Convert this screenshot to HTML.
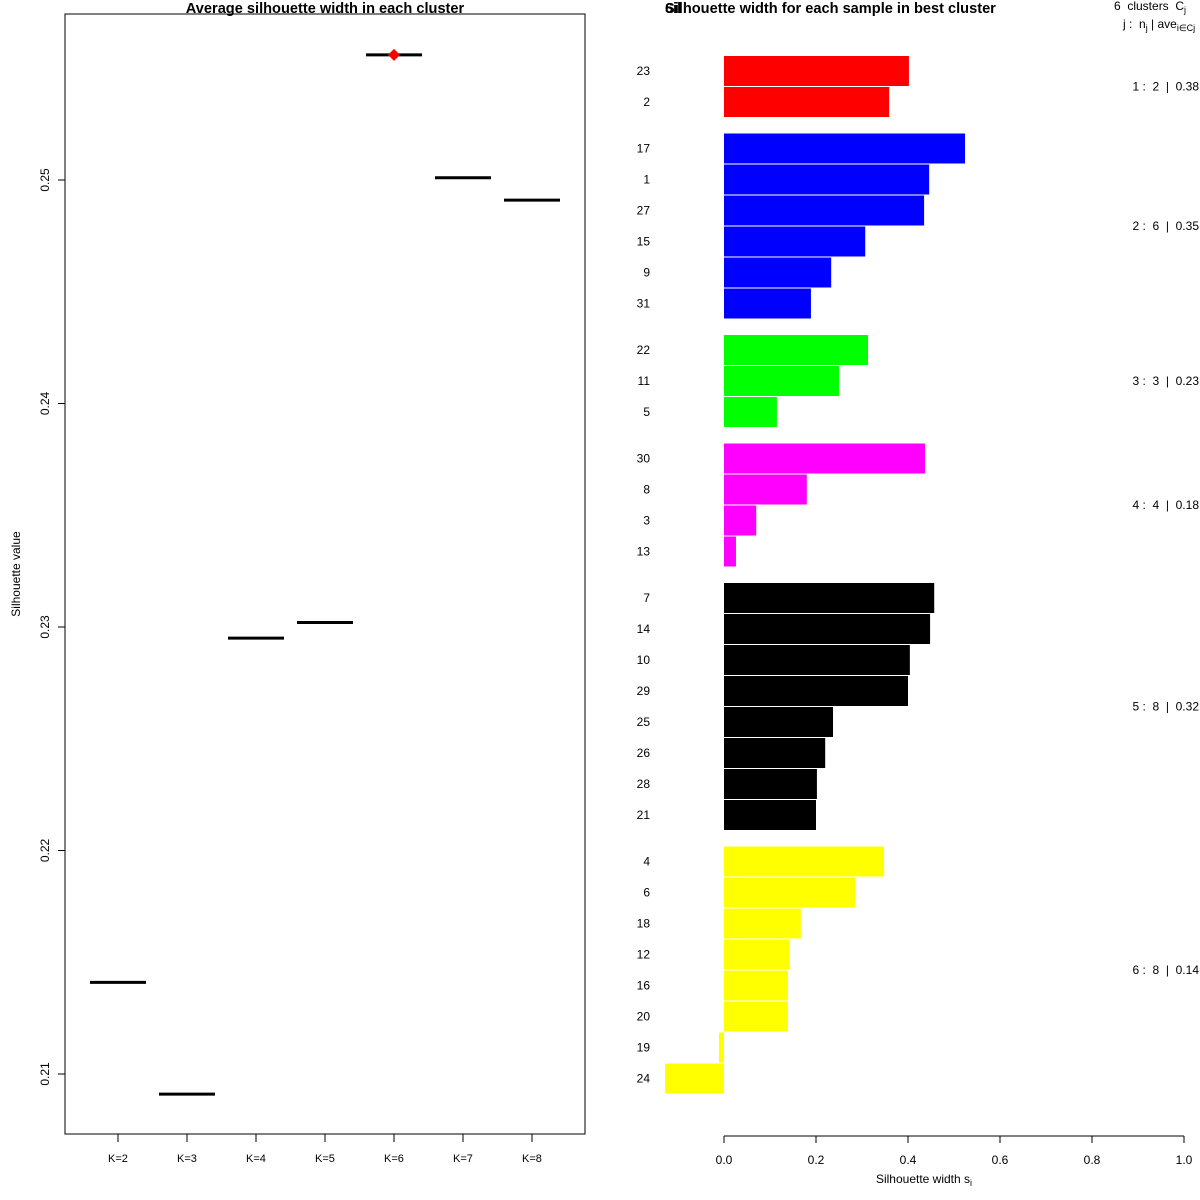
<!DOCTYPE html>
<html><head><meta charset="utf-8"><style>
body{margin:0;background:#fff}
svg{display:block;font-family:"Liberation Sans",sans-serif}
text{white-space:pre}
</style></head><body>
<svg id="s" width="1200" height="1200" viewBox="0 0 1200 1200">
<rect width="1200" height="1200" fill="#fff"/>
<text x="325" y="13" text-anchor="middle" font-weight="bold" font-size="14.6">Average silhouette width in each cluster</text>
<rect x="65" y="14" width="520" height="1120" fill="none" stroke="#000"/>
<text transform="translate(20,574) rotate(-90)" text-anchor="middle" font-size="12">Silhouette value</text>
<g id="left"></g>
<text x="665" y="13" font-weight="bold" font-size="14.6">Silhouette width for each sample in best cluster</text>
<text x="665" y="13" font-weight="bold" font-size="14.6">6il</text>
<text x="1114" y="10" font-size="12">6  clusters  C<tspan font-size="9" dy="3">j</tspan></text>
<text x="1123" y="28" font-size="12">j :  n<tspan font-size="9" dy="3">j</tspan><tspan dy="-3"> | ave</tspan><tspan font-size="9" dy="3">i∈Cj</tspan><tspan dy="-3">  s</tspan><tspan font-size="9" dy="3">i</tspan></text>
<g id="right"></g>
<text x="924" y="1183" text-anchor="middle" font-size="12">Silhouette width s<tspan font-size="9" dy="3">i</tspan></text>
</svg>
<script>
const kLabels=["K=2","K=3","K=4","K=5","K=6","K=7","K=8"];
const kValues=[0.2141,0.2091,0.2295,0.2302,0.2556,0.2501,0.2491];
const yTicks=[0.21,0.22,0.23,0.24,0.25];
const bestIndex=4;
const sampleIds=[23,2,17,1,27,15,9,31,22,11,5,30,8,3,13,7,14,10,29,25,26,28,21,4,6,18,12,16,20,19,24];
const sampleWidths=[0.402,0.359,0.524,0.446,0.435,0.307,0.233,0.189,0.313,0.25,0.115,0.437,0.18,0.07,0.026,0.457,0.448,0.404,0.4,0.237,0.22,0.202,0.2,0.348,0.285,0.167,0.143,0.139,0.139,-0.011,-0.128];
const sampleCluster=[1,1,2,2,2,2,2,2,3,3,3,4,4,4,4,5,5,5,5,5,5,5,5,6,6,6,6,6,6,6,6];
const clusterColors=["#ff0000","#0000ff","#00ff00","#ff00ff","#000000","#ffff00"];
const clusterSizes=[2,6,3,4,8,8];
const clusterAvg=["0.38","0.35","0.23","0.18","0.32","0.14"];
const xTicks=[0,0.2,0.4,0.6,0.8,1.0];
const NS="http://www.w3.org/2000/svg";
function mk(p,t,a){const e=document.createElementNS(NS,t);for(const k in a)e.setAttribute(k,a[k]);p.appendChild(e);return e;}
const L=document.getElementById('left'),R=document.getElementById('right');
const ly=v=>180+(0.25-v)*22350;
const lx=i=>118+i*69;
yTicks.forEach(v=>{
 const t=mk(L,'line',{x1:58,x2:65,y1:ly(v),y2:ly(v),stroke:'#000'});
 
 const tx=mk(L,'text',{transform:`translate(49,${ly(v)}) rotate(-90)`,'text-anchor':'middle','font-size':12});
 tx.textContent=v.toFixed(2);
});
kLabels.forEach((k,i)=>{
 const t=mk(L,'line',{x1:lx(i),x2:lx(i),y1:1134,y2:1142,stroke:'#000'});
 
 const tx=mk(L,'text',{x:lx(i),y:1162,'text-anchor':'middle','font-size':11});
 tx.textContent=k;
 const s=mk(L,'line',{x1:lx(i)-28,x2:lx(i)+28,y1:ly(kValues[i]),y2:ly(kValues[i]),stroke:'#000','stroke-width':3});
 
 if(i===bestIndex){const d=mk(L,'polygon',{points:`${lx(i)},${ly(kValues[i])-6} ${lx(i)+6},${ly(kValues[i])} ${lx(i)},${ly(kValues[i])+6} ${lx(i)-6},${ly(kValues[i])}`,fill:'#ff0000'});
 }
});
const rx=v=>724+v*460;
const rowY=(i,c)=>71+31*i+15.5*c;
let idx=0;
clusterSizes.forEach((n,c)=>{
 const y0=rowY(idx,c),y1=rowY(idx+n-1,c);
 for(let j=0;j<n;j++,idx++){
  const y=rowY(idx,c),w=sampleWidths[idx];
  const b=mk(R,'rect',{x:Math.min(rx(0),rx(w)),y:y-15,width:Math.abs(rx(w)-rx(0)),height:30,fill:clusterColors[c]});
  
  const t=mk(R,'text',{x:650,y:y+4,'text-anchor':'end','font-size':12});
  t.textContent=sampleIds[idx];
 }
 const t=mk(R,'text',{x:1199,y:(y0+y1)/2+4,'text-anchor':'end','font-size':12});
 
 t.textContent=`${c+1} :  ${n}  |  ${clusterAvg[c]}`;
});
const ax=mk(R,'line',{x1:rx(0),x2:rx(1),y1:1136,y2:1136,stroke:'#000'});

xTicks.forEach(v=>{
 const t=mk(R,'line',{x1:rx(v),x2:rx(v),y1:1136,y2:1143,stroke:'#000'});
 
 const tx=mk(R,'text',{x:rx(v),y:1164,'text-anchor':'middle','font-size':12});
 tx.textContent=v.toFixed(1);
});
</script>
</body></html>
